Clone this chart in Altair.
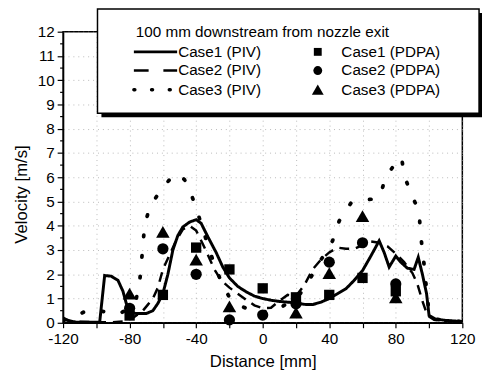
import altair as alt
import pandas as pd

# ---------------- data ----------------
case1_x = [-120, -117, -112, -98, -95, -91, -87, -84, -82, -80, -76, -70, -66, -63, -60, -57, -54, -51, -48,
           -44, -40, -37, -33, -28, -24, -20, -15, -10, -5, 0, 5, 10, 15, 20, 25, 30, 35, 40, 45, 50, 55, 60,
           65, 70, 73, 76, 80, 83, 87, 91, 93.5, 96, 98.5, 100, 104, 110, 120]
case1_v = [0.2, 0.1, 0.02, 0.02, 1.95, 1.92, 1.75, 1.3, 0.8, 0.45, 0.38, 0.38, 0.5, 0.8, 1.2, 2.0, 3.0, 3.6, 3.95,
           4.15, 4.25, 4.1, 3.55, 2.9, 2.3, 1.85, 1.5, 1.28, 1.1, 1.0, 0.93, 0.88, 0.85, 0.82, 0.76, 0.75, 0.85,
           1.0, 1.2, 1.4, 1.75, 2.15, 2.75, 3.38, 2.9, 2.3, 2.75, 2.5, 2.25, 2.2, 2.7, 2.0, 1.2, 0.3, 0.15, 0.1, 0.05]

case2_x = [-120, -115, -100, -90, -84, -78, -72, -69, -66, -63, -60, -56, -52, -48, -44, -40, -36, -32, -29,
           -25, -20, -15, -10, -5, 0, 5, 10, 15, 20, 25, 30, 35, 40, 45, 50, 55, 60, 65, 70, 75, 80, 85, 90,
           93, 96, 99, 103, 110, 120]
case2_v = [0.15, 0.05, 0.02, 0.02, 0.05, 0.2, 0.5, 0.75, 1.0, 1.45, 2.2, 2.8, 3.4, 3.85, 4.0, 3.8, 3.25, 2.65, 2.2,
           1.75, 1.45, 1.2, 0.95, 0.72, 0.6, 0.62, 0.9, 1.15, 1.1, 1.55, 2.2, 2.6, 2.9, 3.1, 3.05, 3.05, 3.2,
           3.35, 3.3, 3.15, 2.85, 2.5, 2.05, 1.6, 0.9, 0.3, 0.12, 0.08, 0.05]

case3_x = [-120, -116, -110, -106, -98, -92, -86, -80, -76, -74, -73, -72, -71, -68, -61, -56, -51, -47, -44,
           -40, -36.6, -33, -29, -25, -20, -15, -10, -5, 0, 5, 10, 15, 20, 25, 30, 35, 40, 42, 46, 53, 60, 66,
           70.6, 73.6, 79.5, 83.5, 85, 89.5, 94, 94.7, 95.9, 97.3, 98.3, 100, 104, 110, 120]
case3_v = [0.1, 0.15, 0.35, 0.5, 0.5, 0.4, 0.38, 0.6, 1.0, 1.65, 2.4, 3.2, 4.0, 4.76, 5.5, 5.9, 6.15, 5.9, 5.5,
           4.73, 4.0, 3.2, 2.4, 1.7, 1.05, 0.75, 0.6, 0.5, 0.45, 0.5, 0.6, 0.8, 1.0, 1.4, 2.0, 2.6, 3.1, 3.38,
           4.2, 4.93, 5.05, 5.1, 5.2, 5.97, 6.55, 6.82, 6.08, 5.27, 4.6, 3.81, 3.04, 2.23, 1.49, 0.4, 0.15, 0.1, 0.05]

pdpa_x = [-80, -60, -40, -20, 0, 20, 40, 60, 80]
case1_pdpa = [0.3, 1.15, 3.1, 2.2, 1.42, 1.05, 1.15, 1.85, 1.3]
case2_pdpa = [0.6, 3.05, 2.0, 0.12, 0.32, 0.78, 2.5, 3.3, 1.6]
case3_pdpa = [1.2, 3.75, 2.6, 0.68, None, 0.42, 2.05, 4.4, 1.05]

legend_title = "100 mm downstream from nozzle exit"
piv_labels = ["Case1 (PIV)", "Case2 (PIV)", "Case3 (PIV)"]
pdpa_labels = ["Case1 (PDPA)", "Case2 (PDPA)", "Case3 (PDPA)"]
x_ticks = list(range(-120, 121, 20))
y_ticks = list(range(0, 13))
y_minor = [i + 0.5 for i in range(12)]

# ---------------- styling ----------------
FONT = "Liberation Sans"
W, H = 406, 296
xs = alt.Scale(domain=[-120, 120], nice=False, zero=False)
ys = alt.Scale(domain=[0, 12], nice=False, zero=False)

xaxis = alt.Axis(values=x_ticks, labelExpr="datum.value % 40 == 0 ? '' + datum.value : ''",
                 title="Distance [mm]", labelFlush=False, tickSize=5, labelPadding=4,
                 titleY=39, titleBaseline="middle")
yaxis = alt.Axis(values=y_ticks, labelExpr="'' + datum.value", title="Velocity [m/s]",
                 tickSize=6, labelPadding=3, titleX=-42, titleY=165, titleBaseline="middle")

one = pd.DataFrame({"k": [0]})


def piv(xv, vv, dash, width, cap="butt"):
    df = pd.DataFrame({"x": xv, "v": vv})
    return alt.Chart(df).mark_line(color="black", strokeWidth=width, strokeDash=dash, strokeCap=cap,
                                   clip=True).encode(
        x=alt.X("x:Q", scale=xs, axis=xaxis),
        y=alt.Y("v:Q", scale=ys, axis=yaxis),
    )


def pdpa(vals, shape, size):
    df = pd.DataFrame({"x": pdpa_x, "v": vals}).dropna()
    return alt.Chart(df).mark_point(shape=shape, filled=True, color="black", opacity=1, size=size).encode(
        x=alt.X("x:Q", scale=xs, axis=xaxis),
        y=alt.Y("v:Q", scale=ys, axis=yaxis),
    )


minor = alt.Chart(pd.DataFrame({"v": y_minor})).mark_rule(color="black", strokeWidth=1.2).encode(
    y=alt.Y("v:Q", scale=ys, axis=yaxis), x=alt.value(-3), x2=alt.value(0))

lines = [
    piv(case1_x, case1_v, [1, 0], 3),
    piv(case2_x, case2_v, [10, 7], 2.5),
    piv(case3_x, case3_v, [1.5, 19.5], 3.8, cap="round"),
]
points = [
    pdpa(case1_pdpa, "square", 110),
    pdpa(case2_pdpa, "circle", 130),
    pdpa(case3_pdpa, "triangle-up", 190),
]

# ---------------- legend (drawn by hand, pixel layout) ----------------
leg = [
    alt.Chart(one).mark_rect(color="black").encode(
        x=alt.value(39), x2=alt.value(426), y=alt.value(-19), y2=alt.value(87)),
    alt.Chart(one).mark_rect(fill="white", stroke="black", strokeWidth=1.5).encode(
        x=alt.value(35), x2=alt.value(423), y=alt.value(-23), y2=alt.value(83)),
    alt.Chart(one).mark_text(align="left", baseline="middle", font=FONT, fontSize=15.5, color="black").encode(
        x=alt.value(74), y=alt.value(0.5), text=alt.value(legend_title)),
]
row_y = [20.5, 39.5, 59]
leg_dash = [([1, 0], 3, "butt"), ([15, 15], 2.5, "butt"), ([1, 17], 3.5, "round")]
leg_shape = [("square", 64), ("circle", 81), ("triangle-up", 144)]
for i in range(3):
    d, w, c = leg_dash[i]
    leg.append(alt.Chart(one).mark_rule(color="black", strokeWidth=w, strokeDash=d, strokeCap=c).encode(
        x=alt.value(72), x2=alt.value(116), y=alt.value(row_y[i])))
    leg.append(alt.Chart(one).mark_text(align="left", baseline="middle", font=FONT, fontSize=15.5,
                                         color="black").encode(
        x=alt.value(117), y=alt.value(row_y[i]), text=alt.value(piv_labels[i])))
    s, sz = leg_shape[i]
    leg.append(alt.Chart(one).mark_point(shape=s, size=sz, filled=True, color="black", opacity=1).encode(
        x=alt.value(259), y=alt.value(row_y[i])))
    leg.append(alt.Chart(one).mark_text(align="left", baseline="middle", font=FONT, fontSize=15.5,
                                         color="black").encode(
        x=alt.value(283), y=alt.value(row_y[i]), text=alt.value(pdpa_labels[i])))

chart = alt.layer(*lines, minor, *points, *leg).properties(
    width=W, height=H,
    autosize=alt.AutoSizeParams(type="none"),
    padding={"left": 56, "top": 21, "right": 20, "bottom": 51},
).configure(
    background="white", font=FONT,
).configure_view(
    stroke="black", strokeWidth=1.5,
).configure_axis(
    labelFont=FONT, titleFont=FONT, labelFontSize=15.5, titleFontSize=17, labelColor="black",
    titleColor="black", titleFontWeight="normal", domainColor="black", domainWidth=1.5,
    tickColor="black", tickWidth=1.2, grid=True, gridColor="#a8a8a8", gridDash=[1, 4],
    gridWidth=1, gridOpacity=0.8,
)

chart.save("out.html", embed_options={"renderer": "svg", "actions": False})
